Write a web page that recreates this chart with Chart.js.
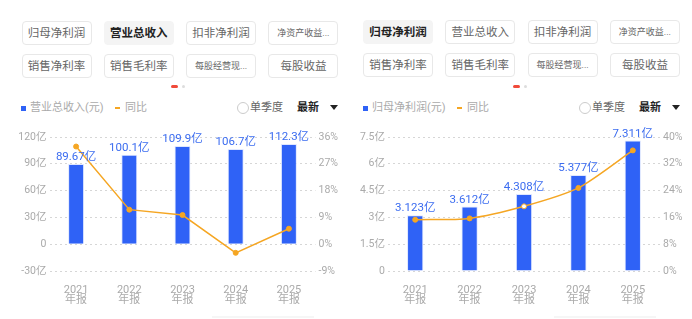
<!DOCTYPE html>
<html>
<head>
<meta charset="utf-8">
<script src="https://cdn.jsdelivr.net/npm/chart.js@4"></script>
<style>
  body { margin: 0; width: 692px; height: 319px; background: #fff; overflow: hidden;
         font-family: Roboto, "Noto Sans CJK SC", sans-serif; position: relative; }
  .panel { position: absolute; top: 0; width: 346px; height: 319px; }
  .btn { position: absolute; width: 70px; height: 24px; box-sizing: border-box; border: 1px solid #e8e8e8;
         border-radius: 4px; font-size: 11.5px; color: #666; text-align: center; line-height: 22px; }
  .btn.small { font-size: 9px; }
  .btn.on { background: #f4f4f4; border-color: #f4f4f4; color: #222; font-weight: bold; }
  .leg { position: absolute; top: 101px; font-size: 11px; color: #aaa; line-height: 14px; white-space: nowrap; }
  .sq { position: absolute; width: 5px; height: 5px; background: #2f62f6; top: 5px; }
  .dash { position: absolute; width: 5px; height: 2px; background: #f5a623; top: 6px; }
  .radio { position: absolute; width: 10px; height: 10px; border: 1px solid #ccc; border-radius: 50%; top: 1px; }
  .tri { position: absolute; width: 0; height: 0; border-left: 4px solid transparent; border-right: 4px solid transparent;
         border-top: 5px solid #222; top: 4px; }
  .pill { position: absolute; top: 85px; width: 7px; height: 3px; border-radius: 2px; background: #f04a3a; }
  .dot { position: absolute; top: 85px; width: 3px; height: 3px; border-radius: 50%; background: #ddd; }
  .scroll { position: absolute; top: 316px; width: 102px; height: 2px; background: #f6f6f6; }
  .cv { position: absolute; left: 0; top: 120px; width: 346px; height: 199px; }
</style>
</head>
<body>
<div class="panel" id="p1" style="left:0"><div class="cv"><canvas id="c1"></canvas></div></div>
<div class="panel" id="p2" style="left:346px"><div class="cv"><canvas id="c2"></canvas></div></div>
<script>
const years = [['2021', '年报'], ['2022', '年报'], ['2023', '年报'], ['2024', '年报'], ['2025', '年报']];
const revenue = [89.67, 100.1, 109.9, 106.7, 112.3];
const revenueYoy = [32.8, 11.6, 9.8, -2.9, 5.2];
const profit = [3.123, 3.612, 4.308, 5.377, 7.311];
const profitYoy = [15.3, 15.7, 19.3, 24.8, 36.0];
const revTicks = [-30, 0, 30, 60, 90, 120];
const profitTicks = [0, 1.5, 3, 4.5, 6, 7.5];
const buttons = ['归母净利润', '营业总收入', '扣非净利润', '净资产收益...', '销售净利率', '销售毛利率', '每股经营现...', '每股收益'];

const blue = '#2f62f6';
const orange = '#f5a623';
const font = 'Roboto, "Noto Sans CJK SC", sans-serif';

function header(panel, sel, x0, y0, legendName, lx) {
  const p = document.getElementById(panel);
  buttons.forEach(function(b, i) {
    const d = document.createElement('div');
    d.className = 'btn' + (b.indexOf('...') > 0 ? ' small' : '') + (i === sel ? ' on' : '');
    d.style.left = (x0 + (i % 4) * 82.3) + 'px';
    d.style.top = (y0 + Math.floor(i / 4) * 33) + 'px';
    d.textContent = b;
    p.appendChild(d);
  });
  p.insertAdjacentHTML('beforeend',
    '<div class="pill" style="left:' + (lx + 150) + 'px"></div>' +
    '<div class="dot" style="left:' + (lx + 161) + 'px"></div>' +
    '<div class="scroll" style="left:' + (lx + 191) + 'px"></div>' +
    '<div class="leg" style="left:' + lx + 'px"><span class="sq" style="left:0"></span>' +
    '<span style="position:absolute;left:9px">' + legendName + '</span></div>' +
    '<div class="leg" style="left:' + (lx + 94) + 'px"><span class="dash" style="left:0"></span>' +
    '<span style="position:absolute;left:10px">同比</span></div>' +
    '<div class="leg" style="left:' + (lx + 216) + 'px;color:#666"><span class="radio" style="left:0"></span>' +
    '<span style="position:absolute;left:13px">单季度</span>' +
    '<span style="position:absolute;left:60px;color:#222;font-weight:bold">最新</span>' +
    '<span class="tri" style="left:93px"></span></div>');
}
header('p1', 1, 21.5, 20.5, '营业总收入(元)', 21);
header('p2', 0, 17, 19.5, '归母净利润(元)', 17);

// value labels above the bars (dataset 1 is the bar series)
const barLabels = {
  id: 'barLabels',
  afterDatasetsDraw(chart) {
    const ctx = chart.ctx;
    const meta = chart.getDatasetMeta(1);
    ctx.save();
    ctx.font = '11.5px ' + font;
    ctx.fillStyle = '#3b6cf0';
    ctx.textAlign = 'center';
    ctx.textBaseline = 'bottom';
    meta.data.forEach(function(bar, i) {
      ctx.fillText(chart.data.datasets[1].data[i] + '亿', bar.x, bar.y - 1);
    });
    ctx.restore();
  }
};

function makeChart(id, bars, yoy, yTicks, yStep, pctMin, pctMax, pctStep, leftW, rightW, pointFill, tension) {
  const ctx = document.getElementById(id).getContext('2d');
  return new Chart(ctx, {
    type: 'bar',
    data: {
      labels: years,
      datasets: [{
        type: 'line',
        data: yoy,
        yAxisID: 'y1',
        borderColor: orange,
        borderWidth: 1.5,
        pointRadius: 2.5,
        pointBackgroundColor: pointFill,
        pointBorderColor: orange,
        pointBorderWidth: 1,
        tension: tension,
        order: 0
      }, {
        data: bars,
        yAxisID: 'y',
        backgroundColor: blue,
        borderColor: '#dfe7ff',
        borderWidth: 1,
        categoryPercentage: 0.3,
        barPercentage: 1,
        order: 1
      }]
    },
    options: {
      responsive: true,
      maintainAspectRatio: false,
      animation: false,
      layout: { padding: { top: 17, bottom: 0, left: 0, right: 0 } },
      plugins: { legend: { display: false }, tooltip: { enabled: false } },
      scales: {
        x: {
          grid: { display: false },
          border: { display: false },
          ticks: { color: '#aaa', font: { size: 11, family: font, lineHeight: 0.95 }, padding: 6 },
          afterFit: function(s) { s.height = 48; }
        },
        y: {
          min: yTicks[0], max: yTicks[yTicks.length - 1],
          ticks: {
            stepSize: yStep, color: '#aaa', padding: 3,
            font: { size: 10.5, family: font },
            callback: function(v) { return v === 0 ? '0' : v + '亿'; }
          },
          grid: { color: '#d6d6d6', drawTicks: false },
          border: { display: false, dash: [2, 3] },
          afterFit: function(s) { s.width = leftW; }
        },
        y1: {
          position: 'right',
          min: pctMin, max: pctMax,
          ticks: {
            stepSize: pctStep, color: '#aaa', padding: 3,
            font: { size: 10.5, family: font },
            callback: function(v) { return v + '%'; }
          },
          grid: { display: false, drawTicks: false },
          border: { display: false },
          afterFit: function(s) { s.width = rightW; }
        }
      }
    },
    plugins: [barLabels]
  });
}

makeChart('c1', revenue, revenueYoy, revTicks, 30, -9, 36, 9, 49.5, 30.5, orange, 0);
makeChart('c2', profit, profitYoy, profitTicks, 1.5, 0, 40, 8, 42, 32, [orange, orange, '#fff', orange, orange], 0.25);
</script>
</body>
</html>
